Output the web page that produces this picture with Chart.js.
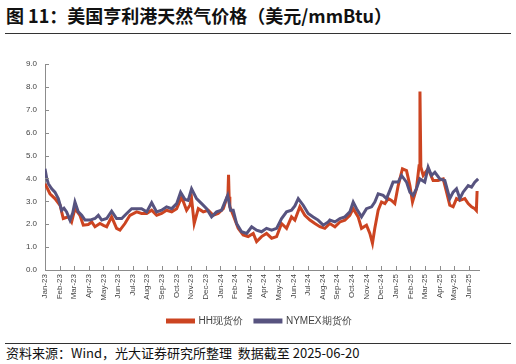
<!DOCTYPE html>
<html>
<head>
<meta charset="utf-8">
<script src="https://cdn.jsdelivr.net/npm/chart.js@4.4.1/dist/chart.umd.min.js"></script>
<style>
  body { margin: 0; width: 516px; height: 364px; background: #fff; position: relative; overflow: hidden; }
  .title { position: absolute; left: 6px; top: 2px; font: bold 18px "Noto Sans CJK SC", sans-serif; color: #111; }
  .rule { position: absolute; left: 5px; width: 506px; height: 1px; background: #333; }
  .source { position: absolute; left: 6px; top: 343px; font: 13px "Noto Sans CJK SC", sans-serif; color: #111; }
  #box { position: absolute; left: 0; top: 36px; width: 516px; height: 304px; }
</style>
</head>
<body>
<div class="title">图 11：美国亨利港天然气价格（美元/mmBtu）</div>
<div class="rule" style="top:33px"></div>
<div id="box"><canvas id="gasChart"></canvas></div>
<div class="rule" style="top:343px"></div>
<div class="source">资料来源：Wind，光大证券研究所整理&nbsp;&nbsp;数据截至 2025-06-20</div>
<script>
// month labels, x = months since Jan-23
var monthLabels = ['Jan-23','Feb-23','Mar-23','Apr-23','May-23','Jun-23','Jul-23','Aug-23','Sep-23','Oct-23','Nov-23','Dec-23',
  'Jan-24','Feb-24','Mar-24','Apr-24','May-24','Jun-24','Jul-24','Aug-24','Sep-24','Oct-24','Nov-24','Dec-24',
  'Jan-25','Feb-25','Mar-25','Apr-25','May-25','Jun-25'];

// HH spot price
var hhX = [0,0.34,0.68,1.03,1.25,1.6,1.82,2.05,2.39,2.62,2.96,3.2,3.42,3.76,4.0,4.22,4.56,4.9,5.13,5.47,5.81,6.27,6.61,6.96,
  7.3,7.64,7.98,8.32,8.67,9.01,9.35,9.69,9.92,10.03,10.21,10.49,10.83,11.17,11.51,11.85,12.2,12.43,12.52,12.56,12.6,12.65,
  12.88,13.22,13.56,13.9,14.25,14.48,14.82,15.16,15.51,15.85,16.19,16.53,16.87,17.1,17.44,17.78,18.13,18.47,18.81,19.15,
  19.49,19.84,20.18,20.52,20.86,21.09,21.43,21.66,22.0,22.23,22.41,22.57,22.8,23.03,23.26,23.48,23.71,23.94,24.17,24.46,
  24.74,24.97,25.15,25.42,25.6,25.66,25.72,25.88,26.22,26.56,26.9,27.25,27.48,27.7,27.93,28.16,28.39,28.73,28.96,29.19,
  29.41,29.52,29.57];
var hhPrice = [3.77,3.33,3.12,2.83,2.25,2.32,2.10,2.68,2.39,1.96,1.99,2.10,1.89,2.03,1.95,1.89,2.32,1.82,1.74,2.03,2.39,2.54,2.47,2.47,
  2.61,2.39,2.47,2.61,2.54,2.68,3.19,2.61,2.83,3.12,2.03,2.68,2.54,2.61,2.39,2.47,2.68,3.12,3.30,4.16,3.20,2.76,
  2.39,1.82,1.53,1.46,1.60,1.24,1.46,1.60,1.39,1.46,2.03,1.82,2.32,2.18,2.76,2.39,2.18,2.03,1.89,1.82,
  2.03,1.89,2.10,2.18,2.39,2.68,2.32,1.82,1.96,1.60,1.17,1.82,2.61,2.97,2.90,3.12,3.04,2.90,3.69,4.42,
  4.34,3.69,2.97,3.55,4.56,7.80,4.50,4.13,4.42,3.91,3.91,3.98,3.40,2.83,2.76,3.12,3.04,3.12,2.90,2.76,
  2.68,2.60,3.45];

// NYMEX futures price
var nyX = [0,0.12,0.23,0.46,0.68,0.91,1.14,1.3,1.48,1.71,1.9,2.05,2.28,2.51,2.74,3.08,3.42,3.65,3.88,4.22,4.56,4.9,5.25,5.59,
  5.93,6.27,6.61,6.96,7.3,7.64,7.98,8.32,8.67,9.01,9.28,9.58,9.8,10.03,10.37,10.72,11.06,11.4,11.74,12.08,12.31,12.5,12.7,
  12.88,13.11,13.45,13.8,14.14,14.48,14.82,15.16,15.51,15.85,16.19,16.53,16.87,17.1,17.33,17.67,18.01,18.35,18.69,19.04,
  19.38,19.49,19.84,20.18,20.52,20.86,21.09,21.32,21.66,22.0,22.35,22.57,22.8,23.14,23.37,23.6,23.82,24.17,24.4,24.74,
  24.97,25.19,25.42,25.65,25.99,26.22,26.45,26.68,27.02,27.36,27.7,27.93,28.16,28.39,28.61,28.96,29.19,29.41,29.64];
var nyPrice = [4.42,4.00,3.77,3.55,3.40,3.12,2.61,2.70,2.54,2.18,2.50,2.97,2.54,2.39,2.18,2.18,2.25,2.39,2.18,2.25,2.57,2.25,2.25,2.47,
  2.68,2.68,2.68,2.54,2.94,2.54,2.61,2.76,2.68,2.90,3.40,3.08,3.04,3.55,3.12,2.90,2.68,2.32,2.54,2.61,2.97,3.26,2.61,
  2.61,2.03,1.67,1.60,1.89,1.74,1.67,1.82,1.74,1.82,2.25,2.54,2.61,2.80,3.12,2.83,2.47,2.32,2.18,1.96,
  2.10,2.18,2.10,2.25,2.32,2.54,2.97,2.68,2.32,2.68,2.76,2.97,3.33,3.26,3.12,3.48,3.84,3.84,4.13,3.84,
  3.40,3.26,3.55,3.98,3.84,4.49,4.13,4.27,3.98,3.91,3.12,3.40,3.55,3.12,3.40,3.69,3.62,3.84,3.98];

var yTicks = [0,1,2,3,4,5,6,7,8,9];

function toPoints(xs, ys) {
  return xs.map(function(x, i) { return { x: x, y: ys[i] }; });
}

// small tick marks pointing into the plot, like the original
var innerTicks = {
  id: 'innerTicks',
  afterLayout: function(chart) {
    // legend sits a bit right of the plot centre in the original
    chart.legend.left += 10;
    chart.legend.right += 10;
  },
  afterDraw: function(chart) {
    var c = chart.ctx, a = chart.chartArea;
    c.save();
    c.strokeStyle = '#8c8c8c';
    c.lineWidth = 1;
    c.beginPath();
    chart.scales.x.ticks.forEach(function(t) {
      var px = Math.round(chart.scales.x.getPixelForValue(t.value)) + 0.5;
      c.moveTo(px, a.bottom); c.lineTo(px, a.bottom - 4);
    });
    chart.scales.y.ticks.forEach(function(t) {
      var py = Math.round(chart.scales.y.getPixelForValue(t.value)) + 0.5;
      c.moveTo(a.left, py); c.lineTo(a.left + 4, py);
    });
    c.stroke();
    c.restore();
  }
};

var ctx = document.getElementById('gasChart').getContext('2d');
var gasChart = new Chart(ctx, {
  type: 'line',
  data: {
    datasets: [{
      label: 'HH现货价',
      data: toPoints(hhX, hhPrice),
      borderColor: '#cc4421',
      backgroundColor: '#cc4421',
      borderWidth: 3,
      pointRadius: 0,
      order: 2
    }, {
      label: 'NYMEX期货价',
      data: toPoints(nyX, nyPrice),
      borderColor: '#57537f',
      backgroundColor: '#57537f',
      borderWidth: 3,
      pointRadius: 0,
      order: 1
    }]
  },
  options: {
    responsive: true,
    maintainAspectRatio: false,
    animation: false,
    layout: { padding: { top: 28, right: 37, left: 20, bottom: 4 } },
    plugins: {
      tooltip: { enabled: false },
      legend: {
        position: 'bottom',
        labels: {
          boxWidth: 26,
          boxHeight: 2,
          color: '#444',
          padding: 12,
          font: { family: 'Liberation Sans', size: 10 },
          sort: function(a, b) { return a.datasetIndex - b.datasetIndex; }
        }
      }
    },
    scales: {
      x: {
        type: 'linear',
        min: 0,
        max: 29.7,
        afterBuildTicks: function(scale) {
          scale.ticks = monthLabels.map(function(l, i) { return { value: i }; });
        },
        afterFit: function(scale) { scale.height = 34; },
        grid: { display: false, drawTicks: false },
        border: { color: '#8c8c8c' },
        ticks: {
          autoSkip: false,
          minRotation: 90,
          maxRotation: 90,
          padding: 4,
          color: '#444',
          font: { family: 'Liberation Sans', size: 8 },
          callback: function(v) { return monthLabels[v]; }
        }
      },
      y: {
        min: 0,
        max: 9,
        afterBuildTicks: function(scale) {
          scale.ticks = yTicks.map(function(v) { return { value: v }; });
        },
        afterFit: function(scale) { scale.width = 25; },
        grid: { display: false, drawTicks: false },
        border: { color: '#8c8c8c' },
        ticks: {
          padding: 8,
          color: '#444',
          font: { family: 'Liberation Sans', size: 8 },
          callback: function(v) { return v.toFixed(1); }
        }
      }
    }
  },
  plugins: [innerTicks]
});
</script>
</body>
</html>
